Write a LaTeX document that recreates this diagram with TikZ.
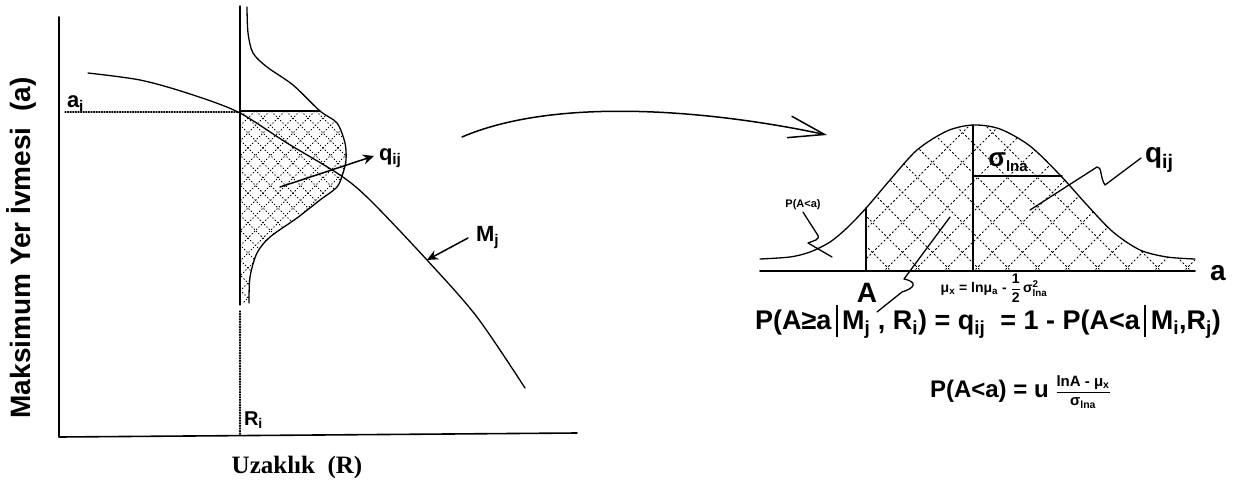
\documentclass[tikz,border=0pt]{standalone}
\usepackage{fontspec}
\usepackage{amsmath}
\setmainfont{Liberation Sans}
\newfontfamily\serifb{Liberation Serif}
\usetikzlibrary{arrows.meta}
\newcommand\fs[1]{\fontsize{#1}{#1}\selectfont\bfseries}
\newcommand\sbs[1]{\textsubscript{#1}}
\newcommand\tbar{\rule[-8pt]{1.8pt}{32pt}}
\newcommand\tfr[2]{$\dfrac{\text{#1}}{\text{#2}}$}
\begin{document}
\begin{tikzpicture}[x=1pt,y=-1pt,line cap=round,line join=round,
  crv/.style={line width=1.3pt},
  axis/.style={line width=1.6pt},
  dotl/.style={line width=1.3pt,dash pattern=on 1pt off 1.6pt},
  hatchL/.style={line width=0.8pt,dash pattern=on 1pt off 2.2pt},
  hatchR/.style={line width=1pt,dash pattern=on 1.4pt off 2.6pt},
  arr/.style={line width=1.5pt,-{Stealth[length=11pt,width=10pt]}},
  lbl/.style={inner sep=0pt,outer sep=0pt}]
\useasboundingbox (0,0) rectangle (1248,485);

% ---------------- left panel ----------------
\draw[axis] (59,17) -- (59,437) -- (577,433);
\draw[crv] (240,6) -- (240,305);
\draw[dotl] (240,311) -- (240,435);
\draw[dotl] (65,112) -- (240,112);

% hatched area under rotated bell
\begin{scope}
\clip (240,111) -- plot[smooth] coordinates {(320,111) (337,123) (345,143) (346,160) (343,173) (337,187) (320,200) (297,218) (270,237) (257,253) (250,277) (249,303)} -- (240,303) -- cycle;
\foreach \c in {-80,-65,...,250} \draw[hatchL] (\c+100,100) -- (\c+320,320);
\foreach \c in {336,351,...,680} \draw[hatchL] (\c-100,100) -- (\c-320,320);
\end{scope}
\draw[crv] (240,111) -- (320,111);
\draw[crv] plot[smooth] coordinates {(247,7) (248,33) (253,53) (267,67) (293,85) (320,111) (337,123) (345,143) (346,160) (343,173) (337,187) (320,200) (297,218) (270,237) (257,253) (250,277) (249,303)};

% attenuation curve M_j
\draw[crv] plot[smooth] coordinates {(88,73) (140,80) (187,93) (238,112) (287,143) (340,175) (370,200) (427,260) (477,317) (525,388)};

\node[lbl,anchor=base west] (ai) at (67,107) {\fs{22}a\sbs{i}};
\node[lbl,anchor=base west] (Ri) at (244,425) {\fs{20}R\sbs{i}};
\node[lbl,anchor=west] (qL) at (379,158) {\fs{22}q\sbs{ij}};
\node[lbl,anchor=west] (Mj) at (476,238) {\fs{22}M\sbs{j}};
\node[lbl,rotate=90] (ylab) at (21,248) {\fs{28}Maksimum Yer İvmesi\ \ (a)};
\node[lbl] (xlab) at (297,467) {\serifb\fs{25}Uzaklık\ \ (R)};

\coordinate (qtail) at (280,187);
\draw[arr] (qtail) -- ([xshift=-5pt,yshift=2pt]qL.west);
\coordinate (mtip) at (427,260);
\draw[arr] ([xshift=-8pt]Mj.west) -- (mtip);

% ---------------- connecting arrow ----------------
\coordinate (cs) at (462,137);
\coordinate (ce) at (827,135);
\draw[line width=1.5pt,-{Straight Barb[length=36pt,width=22pt,line width=1.5pt]}] (cs) .. controls (560,95) and (720,112) .. (ce);

% ---------------- right panel ----------------
\begin{scope}
\clip (866,271) -- (866,207) -- plot[smooth] coordinates {(867,207) (890,180) (917,150) (947,131) (973,125) (1000,129) (1030,146) (1060,175) (1087,205) (1113,232) (1140,250) (1167,257) (1195,259)} -- (1195,271) -- cycle;
\foreach \c in {560,590,...,1090} \draw[hatchR] (\c+110,110) -- (\c+280,280);
\foreach \c in {975,1005,...,1495} \draw[hatchR] (\c-110,110) -- (\c-280,280);
\end{scope}
\draw[crv] plot[smooth] coordinates {(760,259) (790,257) (810,252) (830,242) (848,227) (867,207) (890,180) (917,150) (947,131) (973,125) (1000,129) (1030,146) (1060,175) (1087,205) (1113,232) (1140,250) (1167,257) (1195,259)};
\draw[axis] (760,271) -- (1195,271);
\draw[crv] (973,125) -- (973,271);
\draw[crv] (866,208) -- (866,271);
\draw[crv] (973,176) -- (1062,176);

\node[lbl] (sig) at (1008,162) {\fs{26}σ\raisebox{-5pt}{\fs{15}lna}};
\node[lbl,anchor=west] (qR) at (1145,160) {\fs{28}q\sbs{ij}};
\node[lbl] (Plab) at (803,205) {\fs{11}P(A<a)};
\node[lbl] (Alab) at (867,293) {\fs{28}A};
\node[lbl] (alab) at (1218,273) {\fs{28}a};
\node[lbl] (mu) at (994,288) {\fs{14}μ\sbs{x} = lnμ\sbs{a} - \tfr{1}{2}\,σ$^{\text{2}}_{\text{lna}}$};

% zig-zag leaders
\coordinate (zq1) at (1105,185);
\coordinate (zq2) at (1097,167);
\coordinate (zqe) at (1030,210);
\draw[crv] ([xshift=-4pt,yshift=2pt]qR.west) -- (zq1) .. controls (1100,178) and (1102,166) .. (zq2) -- (zqe);

\coordinate (zp1) at (817,234);
\coordinate (zp2) at (808,243);
\coordinate (zpe) at (832,257);
\draw[crv] ([yshift=-2pt]Plab.south) -- (zp1) .. controls (822,240) and (812,241) .. (zp2) -- (zpe);

\coordinate (za0) at (950,217);
\coordinate (za1) at (904,279);
\coordinate (za2) at (902,292);
\coordinate (zae) at (877,312);
\draw[crv] (za0) -- (za1) .. controls (918,282) and (915,288) .. (za2) -- (zae);

% equations
\node[lbl,anchor=west] (eq1) at (755,322) {\fs{27}P(A≥a\,\tbar\,M\sbs{j} , R\sbs{i}) = q\sbs{ij}\ \ = 1 - P(A<a\,\tbar\,M\sbs{i},R\sbs{j})};
\node[lbl,anchor=west] (eq2) at (930,392) {\fs{24}P(A<a) = u\ \raisebox{2pt}{\fs{15}\tfr{lnA - μ\sbs{x}}{σ\sbs{lna}}}};
\end{tikzpicture}
\end{document}
